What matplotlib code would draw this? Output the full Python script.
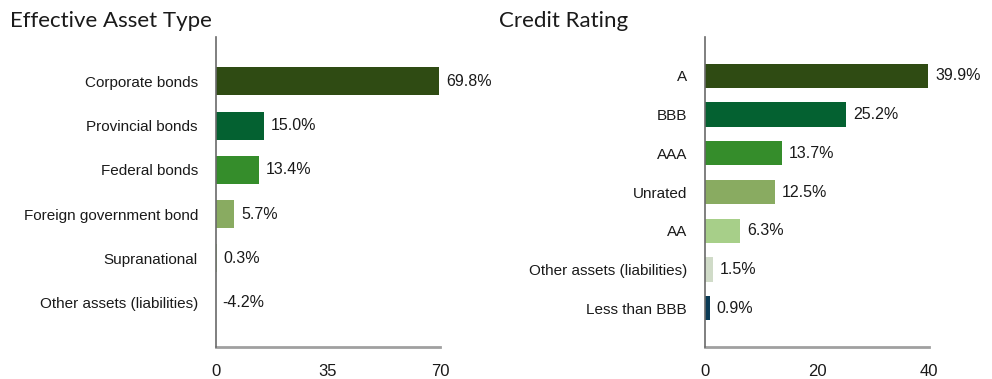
import matplotlib
matplotlib.use('Agg')
import matplotlib.pyplot as plt

# Effective asset type breakdown (%)
asset_labels = ['Corporate bonds', 'Provincial bonds', 'Federal bonds',
                'Foreign government bond', 'Supranational',
                'Other assets (liabilities)']
asset_values = [69.8, 15.0, 13.4, 5.7, 0.3, -4.2]
asset_colors = ['#2f4b13', '#046131', '#358d2b', '#89ab61', '#a7cf89', '#d0dbc8']
asset_ticks = [0, 35, 70]

# Credit rating breakdown (%)
rating_labels = ['A', 'BBB', 'AAA', 'Unrated', 'AA',
                 'Other assets (liabilities)', 'Less than BBB']
rating_values = [39.9, 25.2, 13.7, 12.5, 6.3, 1.5, 0.9]
rating_colors = ['#2f4b13', '#046131', '#358d2b', '#89ab61', '#a7cf89',
                 '#d0dbc8', '#0b3b55']
rating_ticks = [0, 20, 40]

label_font = ['Liberation Sans Narrow', 'Liberation Sans', 'DejaVu Sans']
title_font = ['Lato', 'DejaVu Sans']
label_size = 11

fig = plt.figure(figsize=(9.92, 3.79), dpi=100)
ax_asset = fig.add_axes([0.2177, 0.0844, 0.2258, 0.818])
ax_rating = fig.add_axes([0.7107, 0.0844, 0.2258, 0.818])


def draw_panel(ax, labels, values, colors, ticks, title, title_x):
    n = len(values)
    y = list(range(n))
    ax.barh(y, values, height=0.63, color=colors[:n], zorder=2)
    ax.set_xlim(0, ticks[-1])
    ax.set_ylim(n, -1)
    ax.set_yticks(y)
    ax.set_yticklabels(labels, family=label_font, fontsize=label_size,
                       color='#1a1a1a')
    ax.set_xticks(ticks)
    ax.set_xticklabels([str(t) for t in ticks], family=label_font,
                       fontsize=label_size + 1, color='#1a1a1a')
    ax.tick_params(axis='y', length=0, pad=13)
    ax.tick_params(axis='x', length=0, pad=12)
    for side in ['top', 'right']:
        ax.spines[side].set_visible(False)
    ax.spines['left'].set_color('#6a6a6a')
    ax.spines['left'].set_linewidth(1.2)
    ax.spines['left'].set_zorder(3)
    ax.spines['bottom'].set_color('#a0a0a0')
    ax.spines['bottom'].set_linewidth(2)
    span = ticks[-1]
    for yi, v in zip(y, values):
        ax.text(max(v, 0) + span * 0.03, yi, '{:.1f}%'.format(v),
                va='center', ha='left', family=label_font,
                fontsize=label_size + 0.5, color='#1a1a1a', clip_on=False)
    fig.text(title_x, 0.945, title, family=title_font, fontsize=16,
             color='#1a1a1a', va='center', ha='left')


draw_panel(ax_asset, asset_labels, asset_values, asset_colors, asset_ticks,
           'Effective Asset Type', 0.010)
draw_panel(ax_rating, rating_labels, rating_values, rating_colors, rating_ticks,
           'Credit Rating', 0.503)

fig.savefig('out.png', dpi=100)
